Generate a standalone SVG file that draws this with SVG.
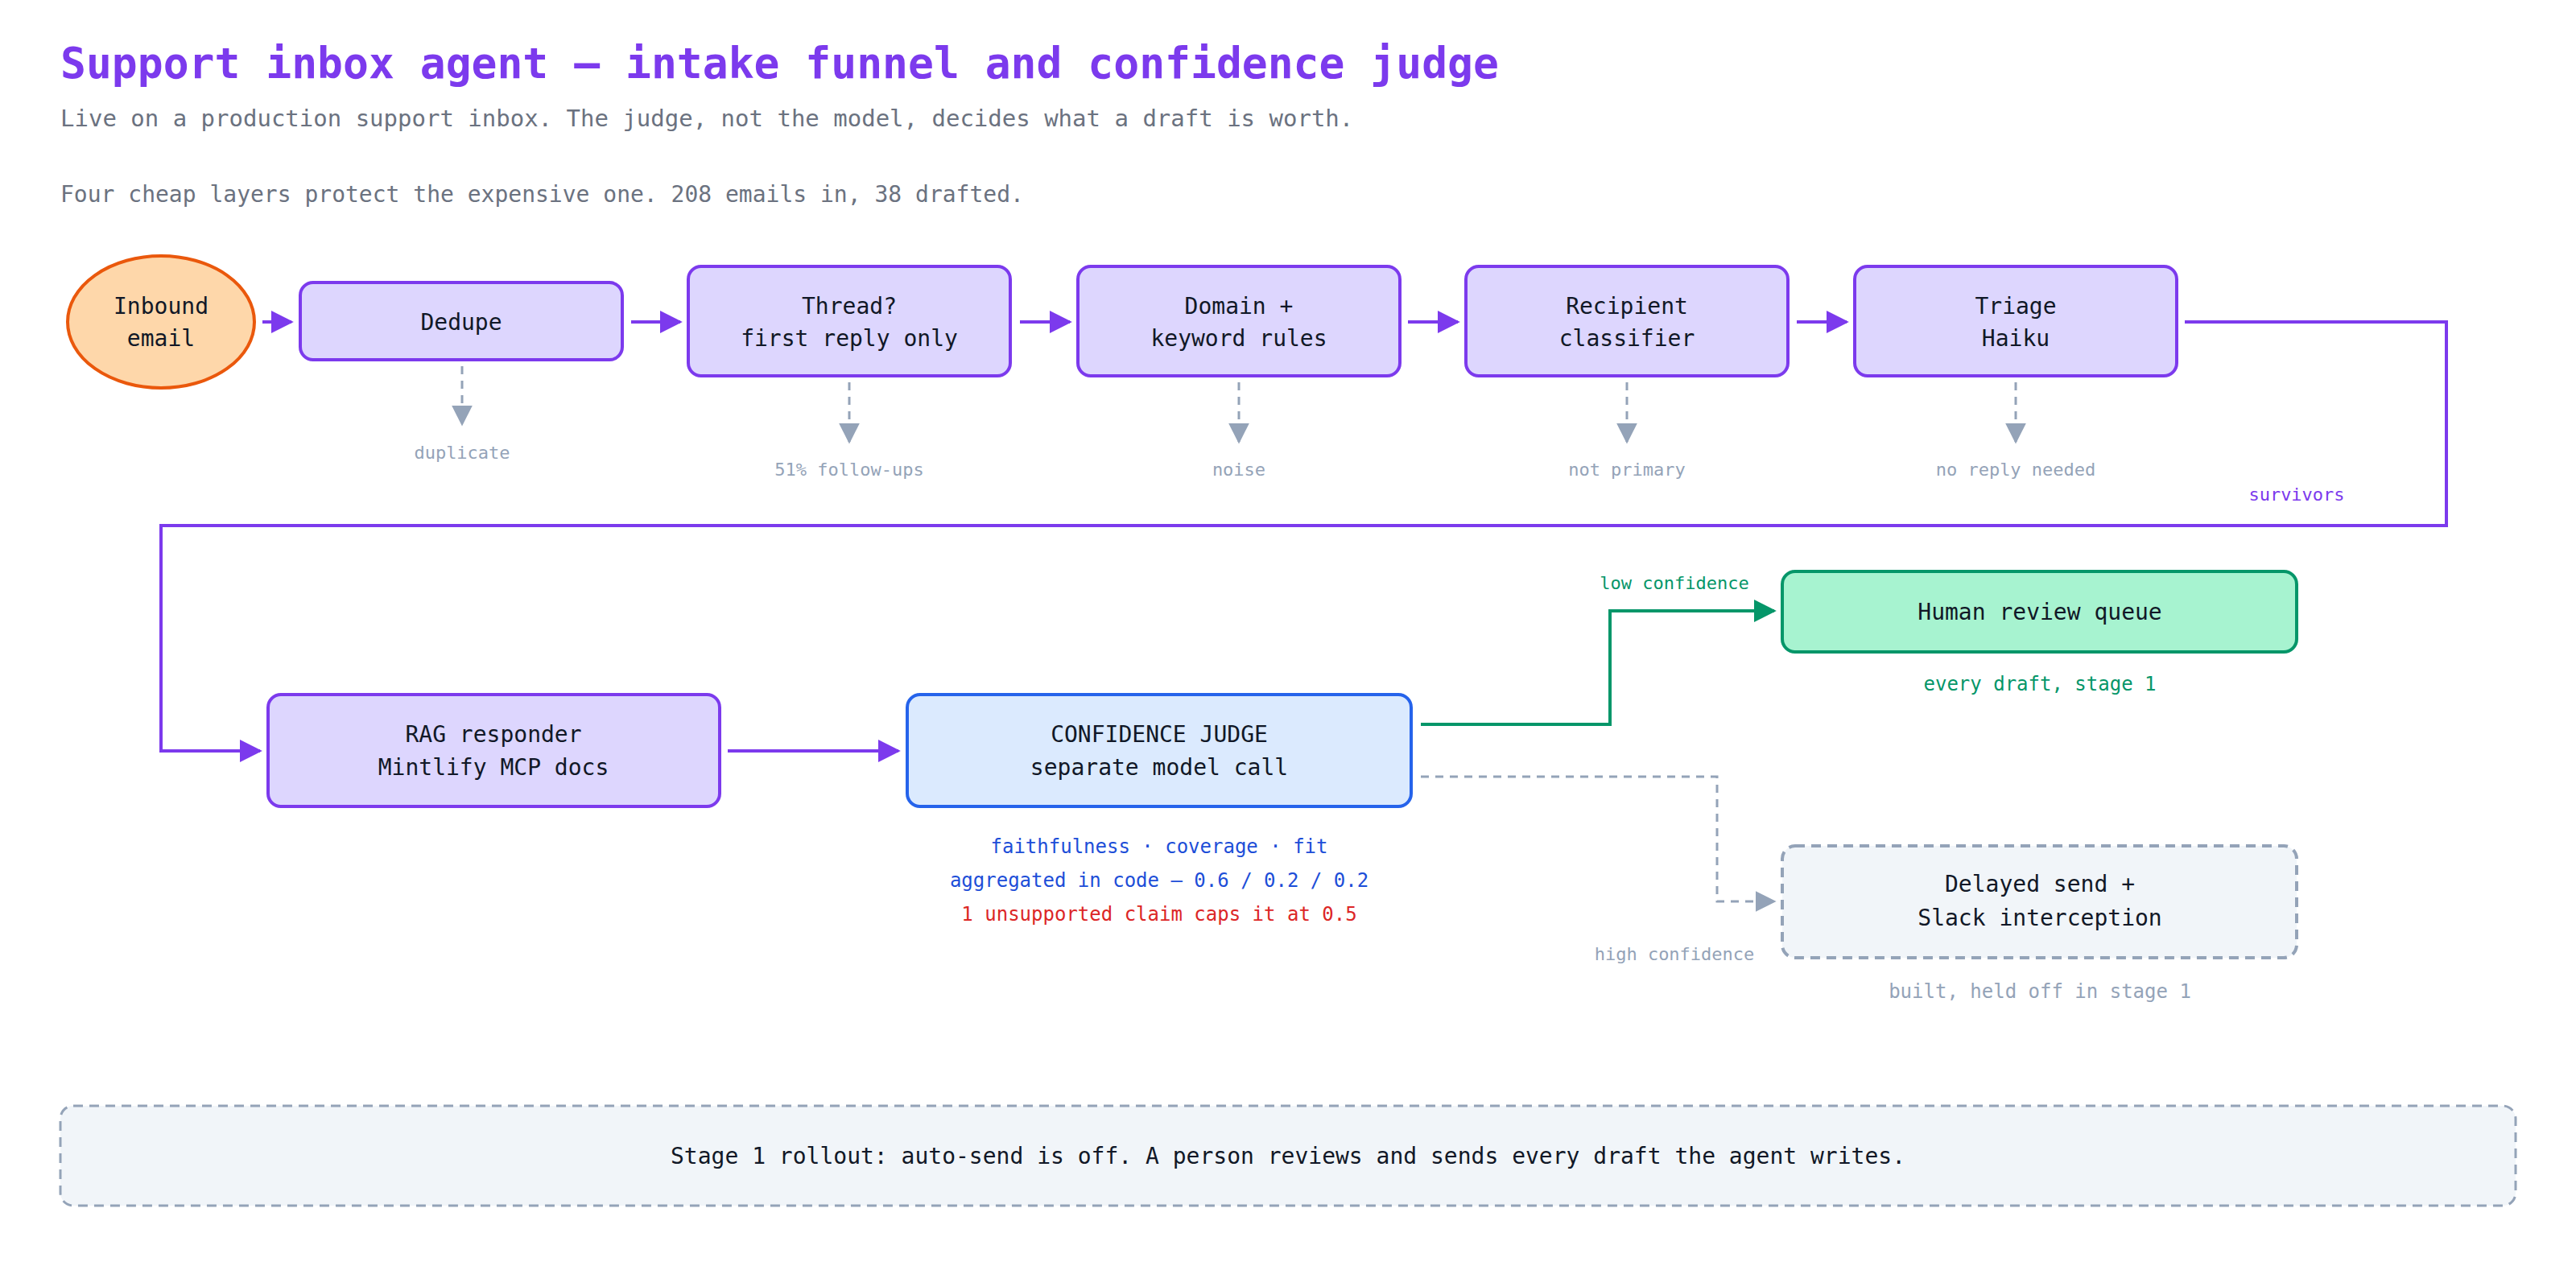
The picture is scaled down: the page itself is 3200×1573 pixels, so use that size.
<svg xmlns="http://www.w3.org/2000/svg" width="3200" height="1573" viewBox="0 0 3200 1573">
<style>
text{font-family:"DejaVu Sans Mono","Liberation Mono",monospace}
.t{font-size:28px;fill:#111827;text-anchor:middle}
.s{font-size:22px;text-anchor:middle}
.g{fill:#94a3b8}
.p{fill:#ddd6fe;stroke:#7c3aed;stroke-width:4}
.fl{fill:none;stroke:#7c3aed;stroke-width:4}
.dd{fill:none;stroke:#94a3b8;stroke-width:3;stroke-dasharray:10 8}
</style>
<defs>
<marker id="ap" viewBox="0 0 10 10" refX="9" refY="5" markerWidth="6" markerHeight="6" markerUnits="userSpaceOnUse" orient="auto"><path d="M0,0L10,5L0,10z" fill="#7c3aed"/></marker>
<marker id="ap2" viewBox="0 0 10 10" refX="9" refY="5" markerWidth="28" markerHeight="28" markerUnits="userSpaceOnUse" orient="auto"><path d="M0,0L10,5L0,10z" fill="#7c3aed"/></marker>
<marker id="ag" viewBox="0 0 10 10" refX="9" refY="5" markerWidth="28" markerHeight="28" markerUnits="userSpaceOnUse" orient="auto"><path d="M0,0L10,5L0,10z" fill="#059669"/></marker>
<marker id="ay" viewBox="0 0 10 10" refX="9" refY="5" markerWidth="26" markerHeight="26" markerUnits="userSpaceOnUse" orient="auto"><path d="M0,0L10,5L0,10z" fill="#94a3b8"/></marker>
</defs>
<rect width="3200" height="1573" fill="#ffffff"/>
<text x="75" y="97" font-size="53" font-weight="bold" fill="#7c3aed">Support inbox agent — intake funnel and confidence judge</text>
<text x="75" y="157" font-size="29" fill="#6b7280">Live on a production support inbox. The judge, not the model, decides what a draft is worth.</text>
<text x="75" y="251" font-size="28" fill="#6b7280">Four cheap layers protect the expensive one. 208 emails in, 38 drafted.</text>

<g id="connectors">
<path class="fl" d="M326,400H362" marker-end="url(#ap2)"/>
<path class="fl" d="M784,400H845" marker-end="url(#ap2)"/>
<path class="fl" d="M1267,400H1329" marker-end="url(#ap2)"/>
<path class="fl" d="M1749,400H1811" marker-end="url(#ap2)"/>
<path class="fl" d="M2232,400H2294" marker-end="url(#ap2)"/>
<path class="fl" d="M2714,400H3039V653H200V933H323" marker-end="url(#ap2)"/>
<path class="fl" d="M904,933H1116" marker-end="url(#ap2)"/>
<path d="M1765,900H2000V759H2204" fill="none" stroke="#059669" stroke-width="4" marker-end="url(#ag)"/>
<path class="dd" d="M1765,965H2133V1120H2204" marker-end="url(#ay)"/>
<path class="dd" d="M574,455V527" marker-end="url(#ay)"/>
<path class="dd" d="M1055,475V549" marker-end="url(#ay)"/>
<path class="dd" d="M1539,475V549" marker-end="url(#ay)"/>
<path class="dd" d="M2021,475V549" marker-end="url(#ay)"/>
<path class="dd" d="M2504,475V549" marker-end="url(#ay)"/>
<text class="s g" x="574" y="570">duplicate</text>
<text class="s g" x="1055" y="591">51% follow-ups</text>
<text class="s g" x="1539" y="591">noise</text>
<text class="s g" x="2021" y="591">not primary</text>
<text class="s g" x="2504" y="591">no reply needed</text>
<text class="s" x="2853" y="622" fill="#7c3aed">survivors</text>
<text class="s" x="2080" y="732" fill="#059669">low confidence</text>
<text class="s g" x="2080" y="1193">high confidence</text>
</g>

<g id="inbound"><ellipse cx="200" cy="400" rx="116" ry="82" fill="#fed7aa" stroke="#ea580c" stroke-width="4"/><text class="t" x="200" y="390">Inbound</text><text class="t" x="200" y="430">email</text></g>
<g id="dedupe"><rect class="p" x="373" y="351" width="400" height="96" rx="16"/><text class="t" x="573" y="410">Dedupe</text></g>
<g id="thread"><rect class="p" x="855" y="331" width="400" height="136" rx="16"/><text class="t" x="1055" y="390">Thread?</text><text class="t" x="1055" y="430">first reply only</text></g>
<g id="domain"><rect class="p" x="1339" y="331" width="400" height="136" rx="16"/><text class="t" x="1539" y="390">Domain +</text><text class="t" x="1539" y="430">keyword rules</text></g>
<g id="recipient"><rect class="p" x="1821" y="331" width="400" height="136" rx="16"/><text class="t" x="2021" y="390">Recipient</text><text class="t" x="2021" y="430">classifier</text></g>
<g id="triage"><rect class="p" x="2304" y="331" width="400" height="136" rx="16"/><text class="t" x="2504" y="390">Triage</text><text class="t" x="2504" y="430">Haiku</text></g>
<g id="rag"><rect class="p" x="333" y="863" width="561" height="139" rx="16"/><text class="t" x="613" y="922">RAG responder</text><text class="t" x="613" y="963">Mintlify MCP docs</text></g>
<g id="judge"><rect x="1127" y="863" width="626" height="139" rx="16" fill="#dbeafe" stroke="#2563eb" stroke-width="4"/><text class="t" x="1440" y="922">CONFIDENCE JUDGE</text><text class="t" x="1440" y="963">separate model call</text>
<text class="s" x="1440" y="1060" font-size="24" fill="#1d4ed8" style="font-size:24px">faithfulness · coverage · fit</text>
<text class="s" x="1440" y="1102" fill="#1d4ed8" style="font-size:24px">aggregated in code — 0.6 / 0.2 / 0.2</text>
<text class="s" x="1440" y="1144" fill="#dc2626" style="font-size:24px">1 unsupported claim caps it at 0.5</text></g>
<g id="human"><rect x="2214" y="710" width="639" height="100" rx="16" fill="#a7f3d0" stroke="#059669" stroke-width="4"/><text class="t" x="2534" y="770">Human review queue</text><text class="s" x="2534" y="858" fill="#059669" style="font-size:24px">every draft, stage 1</text></g>
<g id="delayed"><rect x="2214" y="1051" width="639" height="139" rx="16" fill="#f1f5f9" stroke="#94a3b8" stroke-width="4" stroke-dasharray="12 8"/><text class="t" x="2534" y="1108">Delayed send +</text><text class="t" x="2534" y="1150">Slack interception</text><text class="s g" x="2534" y="1240" style="font-size:24px">built, held off in stage 1</text></g>
<g id="footer"><rect x="75" y="1374" width="3050" height="124" rx="16" fill="#f1f5f9" stroke="#94a3b8" stroke-width="3" stroke-dasharray="12 8"/><text class="t" x="1600" y="1446">Stage 1 rollout: auto-send is off. A person reviews and sends every draft the agent writes.</text></g>
</svg>
